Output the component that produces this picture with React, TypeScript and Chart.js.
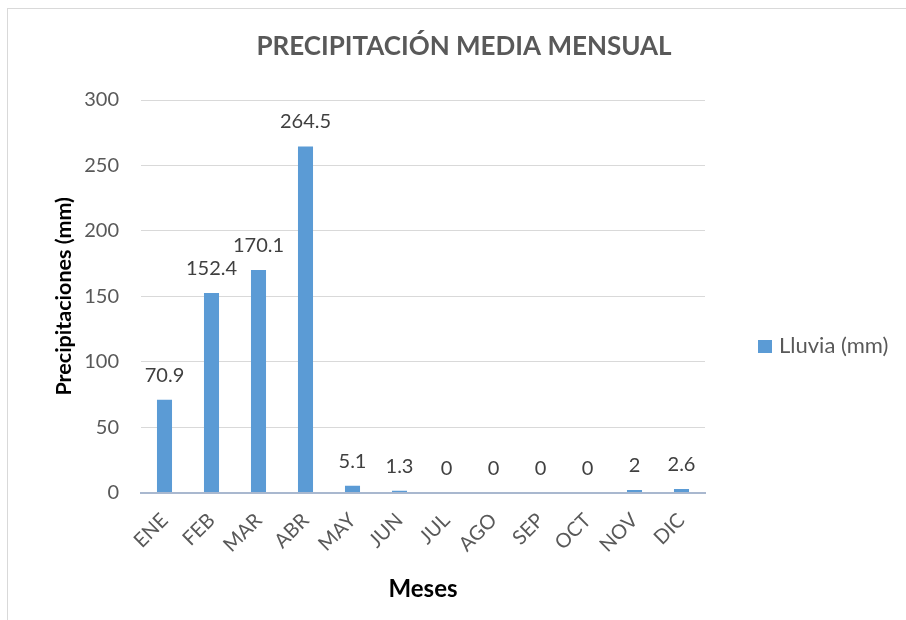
import React, { useEffect, useRef } from "react";
import { Chart, registerables } from "chart.js";

Chart.register(...registerables);

const categories = ["ENE", "FEB", "MAR", "ABR", "MAY", "JUN", "JUL", "AGO", "SEP", "OCT", "NOV", "DIC"];
const lluvia = [70.9, 152.4, 170.1, 264.5, 5.1, 1.3, 0, 0, 0, 0, 2, 2.6];
const yTicks = [0, 50, 100, 150, 200, 250, 300];
const seriesName = "Lluvia (mm)";
const chartTitle = "PRECIPITACIÓN MEDIA MENSUAL";
const yTitle = "Precipitaciones (mm)";
const xTitle = "Meses";

const FONT = "Lato, 'Open Sans', sans-serif";
const BAR = "#5b9bd5";

const dataLabels = {
  id: "dataLabels",
  afterDatasetsDraw(chart: any) {
    const ctx = chart.ctx;
    const meta = chart.getDatasetMeta(0);
    ctx.save();
    ctx.font = `20px ${FONT}`;
    ctx.fillStyle = "#404040";
    ctx.textAlign = "center";
    ctx.textBaseline = "alphabetic";
    meta.data.forEach((el: any, i: number) => {
      const v = chart.data.datasets[0].data[i];
      ctx.fillText(String(v), el.x, el.y - 18);
    });
    ctx.restore();
  },
};

const titleAndLegend = {
  id: "titleAndLegend",
  afterDraw(chart: any) {
    const ctx = chart.ctx;
    ctx.save();
    // chart title, centred on the whole chart object
    ctx.font = `bold 26px ${FONT}`;
    ctx.fillStyle = "#595959";
    ctx.textAlign = "center";
    ctx.textBaseline = "middle";
    ctx.fillText(chartTitle, chart.width / 2, 38);
    // legend
    const x = chart.chartArea.right + 53;
    const y = 337;
    ctx.fillStyle = BAR;
    ctx.fillRect(x, y - 6, 14, 13);
    ctx.font = `22px ${FONT}`;
    ctx.fillStyle = "#595959";
    ctx.textAlign = "left";
    ctx.textBaseline = "middle";
    ctx.fillText(seriesName, x + 21, y);
    ctx.restore();
  },
};

export default function App() {
  const ref = useRef<HTMLCanvasElement | null>(null);
  useEffect(() => {
    if (!ref.current) return;
    const chart = new Chart(ref.current, {
      type: "bar",
      data: {
        labels: categories,
        datasets: [
          {
            label: seriesName,
            data: lluvia,
            backgroundColor: BAR,
            barPercentage: 0.32,
            categoryPercentage: 1,
          },
        ],
      },
      options: {
        animation: false,
        responsive: false,
        maintainAspectRatio: false,
        layout: { padding: { left: 40, right: 215, top: 91, bottom: 26.5 } },
        plugins: {
          legend: { display: false },
          tooltip: { enabled: false },
          title: { display: false },
        },
        scales: {
          x: {
            grid: { display: false, drawTicks: false },
            border: { display: true, color: "#a9b8cf", width: 2 },
            ticks: {
              color: "#595959",
              font: { family: FONT, size: 20 },
              minRotation: 45,
              maxRotation: 45,
              padding: 16,
            },
            title: {
              display: true,
              text: xTitle,
              color: "#000000",
              font: { family: FONT, size: 24, weight: "bold" },
              padding: { top: 0, bottom: 19 },
            },
            afterFit: (s: any) => {
              s.height = 130;
            },
          },
          y: {
            min: 0,
            max: 300,
            afterBuildTicks: (s: any) => {
              s.ticks = yTicks.map((v) => ({ value: v }));
            },
            grid: { color: "#d9d9d9", lineWidth: 1, drawTicks: false },
            border: { display: false },
            ticks: {
              color: "#595959",
              font: { family: FONT, size: 20 },
              padding: 22,
            },
            title: {
              display: true,
              text: yTitle,
              color: "#000000",
              font: { family: FONT, size: 21.5, weight: "bold" },
              padding: { top: 3, bottom: 0 },
            },
            afterFit: (s: any) => {
              s.width = 93;
            },
          },
        },
      },
      plugins: [dataLabels, titleAndLegend],
    });
    return () => chart.destroy();
  }, []);

  return (
    <div
      style={{
        position: "fixed",
        left: 0,
        top: 0,
        width: 906,
        height: 620,
        overflow: "hidden",
        background: "#ffffff",
      }}
    >
      <div
        style={{
          position: "absolute",
          left: 7,
          top: 8,
          width: 914,
          height: 642,
          border: "1px solid #d9d9d9",
          background: "#ffffff",
        }}
      >
        <canvas ref={ref} width={912} height={640} style={{ display: "block", width: 912, height: 640 }} />
      </div>
    </div>
  );
}
